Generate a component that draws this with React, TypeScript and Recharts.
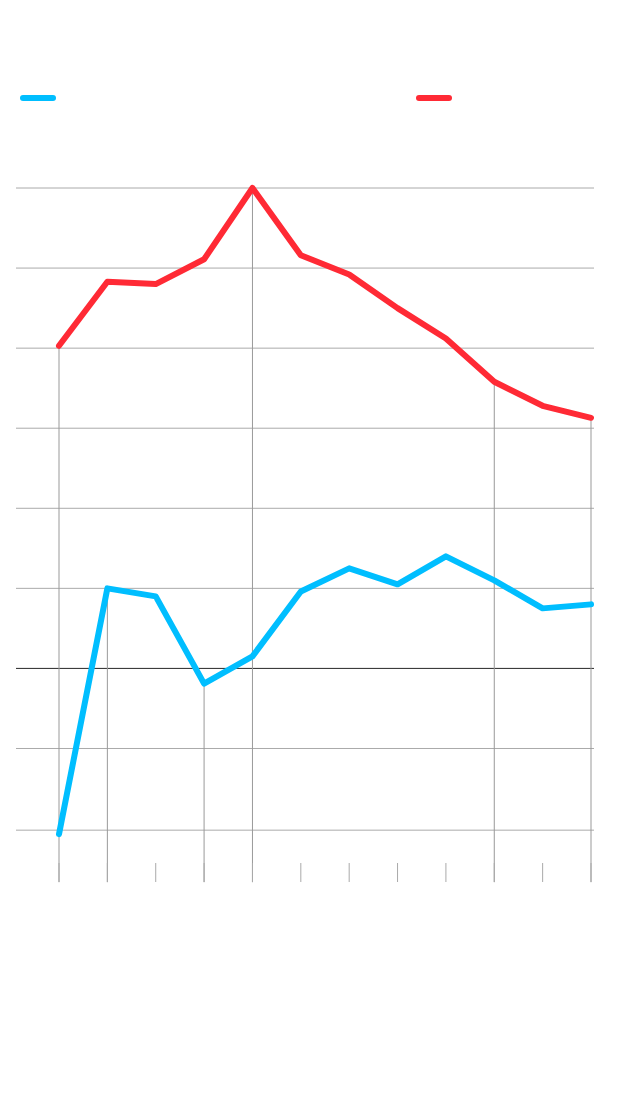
import React from 'react';
import { LineChart, Line, XAxis, YAxis, CartesianGrid, ReferenceLine, Legend } from 'recharts';

const categories = ['1', '2', '3', '4', '5', '6', '7', '8', '9', '10', '11', '12'];
const blueValues = [-2.07, 1.0, 0.9, -0.19, 0.15, 0.96, 1.25, 1.05, 1.4, 1.1, 0.75, 0.8];
const redValues = [4.03, 4.83, 4.8, 5.11, 6.0, 5.16, 4.92, 4.5, 4.12, 3.58, 3.28, 3.13];
const yTicks = [-2.02, -1, 0, 1, 2, 3, 4, 5, 6];
const yDomain = [-2.43, 6];
const dropBottom = -2.67;

// points that get a drop line down to the axis
const markedBlue = [1, 3];
const markedRed = [0, 4, 9, 11];

const BLUE = '#00beff';
const RED = '#ff2a35';

const data = categories.map((cat, i) => ({
  cat,
  blue: blueValues[i],
  red: redValues[i],
}));

const LegendDashes = ({ payload }: any) => (
  <div style={{ position: 'relative', width: 624, height: 10 }}>
    {(payload || []).map((item: any, i: number) => (
      <span
        key={item.dataKey}
        style={{
          position: 'absolute',
          left: i === 0 ? 12 : 408,
          top: 1,
          width: 36,
          height: 6,
          borderRadius: 3,
          background: item.color,
        }}
      />
    ))}
  </div>
);

const NoLabel = () => <g />;

const App: React.FC = () => {
  const drops = [
    ...markedBlue.map((i) => ({ x: categories[i], y: blueValues[i] })),
    ...markedRed.map((i) => ({ x: categories[i], y: redValues[i] })),
  ];

  return (
    <LineChart
      width={624}
      height={1090}
      data={data}
      margin={{ top: 180, right: 38, bottom: 216, left: 8 }}
    >
      <CartesianGrid vertical={false} horizontalValues={yTicks} stroke="#aaa" strokeWidth={1} />
      <YAxis hide type="number" domain={yDomain} ticks={yTicks} />
      <XAxis
        dataKey="cat"
        padding={{ left: 43, right: 3 }}
        axisLine={false}
        tick={<NoLabel />}
        tickLine={{ stroke: '#aaa' }}
        tickSize={19}
        height={19}
        interval={0}
      />
      <ReferenceLine y={0} stroke="#333" strokeWidth={1} />
      {drops.map((d) => (
        <ReferenceLine
          key={d.x}
          segment={[
            { x: d.x, y: d.y },
            { x: d.x, y: dropBottom },
          ]}
          ifOverflow="visible"
          stroke="#999"
          strokeWidth={1}
        />
      ))}
      <Legend
        layout="horizontal"
        verticalAlign="middle"
        align="center"
        wrapperStyle={{ top: 86, left: 0, width: 624 }}
        content={<LegendDashes />}
      />
      <Line
        type="linear"
        dataKey="red"
        name="red"
        stroke={RED}
        strokeWidth={6}
        strokeLinecap="round"
        strokeLinejoin="round"
        dot={false}
        activeDot={false}
        isAnimationActive={false}
      />
      <Line
        type="linear"
        dataKey="blue"
        name="blue"
        stroke={BLUE}
        strokeWidth={6}
        strokeLinecap="round"
        strokeLinejoin="round"
        dot={false}
        activeDot={false}
        isAnimationActive={false}
      />
    </LineChart>
  );
};

export default App;
